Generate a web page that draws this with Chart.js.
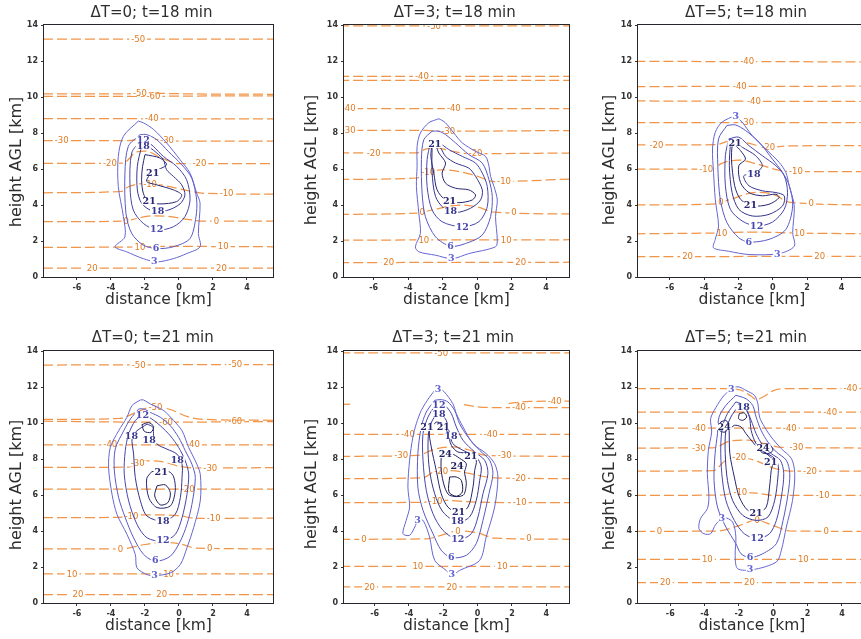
<!DOCTYPE html>
<html>
<head>
<meta charset="utf-8">
<script src="https://cdn.jsdelivr.net/npm/chart.js@4/dist/chart.umd.min.js"></script>
<style>
  html, body { margin: 0; padding: 0; background: #fff; }
  body { width: 861px; height: 639px; overflow: hidden; position: relative; }
  canvas { position: absolute; }
</style>
</head>
<body>
<canvas id="pA" width="283" height="310"></canvas>
<canvas id="pB" width="279" height="310"></canvas>
<canvas id="pC" width="282" height="310"></canvas>
<canvas id="pD" width="283" height="310"></canvas>
<canvas id="pE" width="279" height="310"></canvas>
<canvas id="pF" width="282" height="310"></canvas>
<script>
// ---- axis text and ticks ----
const panelTitles = ['ΔT=0; t=18 min', 'ΔT=3; t=18 min', 'ΔT=5; t=18 min',
                     'ΔT=0; t=21 min', 'ΔT=3; t=21 min', 'ΔT=5; t=21 min'];
const xAxisTitle = 'distance [km]';
const yAxisTitle = 'height AGL [km]';
const xTickValues = [-6, -4, -2, 0, 2, 4];
const yTickValues = [0, 2, 4, 6, 8, 10, 12, 14];

// ---- isotherms: temperature (°C), path [distance km, height km], label positions (km) ----
const isoA = [
  {t: -50, path: [[-8, 13.22], [5.6, 13.22]], at: [-2.4]},
  {t: -50, path: [[-8, 10.17], [-3, 10.18], [-2, 10.24], [-1, 10.2], [5.6, 10.15]], at: [-2.3]},
  {t: -60, path: [[-8, 10.04], [-2, 10.03], [0, 10.05], [5.6, 10.06]], at: [-1.5]},
  {t: -40, path: [[-8, 8.8], [5.6, 8.78]], at: [-1.6]},
  {t: -30, path: [[-8, 7.57], [-3, 7.57], [-2, 7.7], [-1, 7.6], [0, 7.55], [5.6, 7.55]], at: [-6.9, -0.7]},
  {t: -20, path: [[-8, 6.31], [-3.3, 6.32], [-2.5, 6.95], [-2, 7.0], [-1, 6.6], [0, 6.3], [1, 6.3], [5.6, 6.3]], at: [-4.06, 1.2]},
  {t: -10, path: [[-8, 4.68], [-3.4, 4.75], [-3, 5.0], [-2, 5.2], [-1, 5.1], [0.5, 4.8], [1.5, 4.65], [5.6, 4.6]], at: [-1.7, 2.8]},
  {t: 0, path: [[-8, 3.07], [-3.2, 3.1], [-2.5, 3.25], [-1.5, 3.4], [-0.5, 3.35], [0.5, 3.2], [1.5, 3.1], [5.6, 3.1]], at: [-3.1, 2.2]},
  {t: 10, path: [[-8, 1.65], [-3, 1.66], [-1, 1.7], [5.6, 1.68]], at: [-2.3, 2.6]},
  {t: 20, path: [[-8, 0.5], [5.6, 0.5]], at: [-5.1, 2.5]}
];
const isoB = [
  {t: -50, path: [[-8, 13.95], [5.6, 13.95]], at: [-2.5]},
  {t: -40, path: [[-8, 11.14], [5.6, 11.14]], at: [-3.2]},
  {t: -40, path: [[-8, 10.93], [5.6, 10.93]], at: []},
  {t: -40, path: [[-8, 9.35], [5.6, 9.35]], at: [-7.45, -1.35]},
  {t: -30, path: [[-8, 8.14], [-3, 8.14], [-2, 8.1], [5.6, 8.14]], at: [-7.45, -1.68]},
  {t: -20, path: [[-8, 6.89], [-3.5, 6.9], [-3, 7.1], [-2.5, 7.2], [-1.5, 7.0], [-0.5, 6.85], [5.6, 6.89]], at: [-6.0, -0.09]},
  {t: -10, path: [[-8, 5.42], [-3.5, 5.5], [-3, 5.8], [-2, 5.95], [-1, 5.85], [0, 5.6], [1, 5.3], [5.6, 5.45]], at: [-2.84, 1.56]},
  {t: 0, path: [[-8, 3.48], [-3.5, 3.55], [-2.5, 3.75], [-1, 4.0], [0, 3.9], [1, 3.6], [5.6, 3.5]], at: [-3.19, 2.14]},
  {t: 10, path: [[-8, 2.05], [5.6, 2.07]], at: [-3.09, 1.69]},
  {t: 20, path: [[-8, 0.8], [5.6, 0.82]], at: [-5.13, 2.53]}
];
const isoC = [
  {t: -40, path: [[-8, 11.98], [5.6, 11.95]], at: [-1.49]},
  {t: -40, path: [[-8, 10.58], [5.6, 10.6]], at: [-1.92]},
  {t: -40, path: [[-8, 9.78], [5.6, 9.75]], at: [-1.1]},
  {t: -30, path: [[-8, 8.57], [5.6, 8.57]], at: [-1.49]},
  {t: -20, path: [[-8, 7.34], [-3.3, 7.35], [-2.5, 7.55], [-1.5, 7.45], [-0.3, 7.2], [1, 7.28], [5.6, 7.3]], at: [-6.78, -0.27]},
  {t: -10, path: [[-8, 6.0], [-3.5, 6.0], [-3, 6.3], [-2, 6.5], [-1, 6.3], [0.5, 5.9], [1.5, 5.85], [5.6, 5.85]], at: [-3.88, 1.35]},
  {t: 0, path: [[-8, 4.0], [-3.5, 4.05], [-2.5, 4.3], [-1, 4.7], [0, 4.6], [1, 4.15], [5.6, 4.0]], at: [-3.02, 2.24]},
  {t: 10, path: [[-8, 2.4], [-3, 2.45], [-1, 2.5], [1, 2.45], [5.6, 2.4]], at: [-2.96, 1.55]},
  {t: 20, path: [[-8, 1.13], [5.6, 1.15]], at: [-4.96, 2.73]}
];
const isoD = [
  {t: -50, path: [[-8, 13.22], [5.6, 13.25]], at: [-2.37, 3.31]},
  {t: -50, path: [[-8, 10.2], [-3.5, 10.25], [-2.5, 10.6], [-1.5, 10.9], [-0.5, 10.75], [0.5, 10.35], [1.5, 10.2], [5.6, 10.15]], at: [-1.39]},
  {t: -60, path: [[-8, 10.1], [-2, 10.05], [0, 10.05], [5.6, 10.08]], at: [-0.76, 3.31]},
  {t: -40, path: [[-8, 8.79], [5.6, 8.79]], at: [-4.04, 0.82]},
  {t: -30, path: [[-8, 7.53], [-3, 7.55], [-2, 7.9], [-1, 7.85], [0, 7.6], [1, 7.5], [5.6, 7.52]], at: [-2.43, 1.84]},
  {t: -20, path: [[-8, 6.32], [5.6, 6.32]], at: [0.51]},
  {t: -10, path: [[-8, 4.74], [-3.5, 4.76], [-2, 4.9], [0, 4.85], [1, 4.7], [5.6, 4.72]], at: [-2.8, 2.04]},
  {t: 0, path: [[-8, 3.01], [-3.5, 3.0], [-2, 3.25], [-1, 3.35], [0, 3.3], [1, 3.05], [5.6, 3.01]], at: [-3.45, 1.8]},
  {t: 10, path: [[-8, 1.62], [5.6, 1.62]], at: [-6.29, -0.61]},
  {t: 20, path: [[-8, 0.46], [5.6, 0.46]], at: [-5.94, -1.02]}
];
const isoE = [
  {t: -50, path: [[-8, 13.89], [5.6, 13.89]], at: [-2.12]},
  {t: -40, path: [[-8, 11.04], [-7.3, 11.04]], at: []},
  {t: -40, path: [[-0.8, 11.02], [0, 10.9], [1, 10.86], [5.6, 10.86]], at: [2.41]},
  {t: -40, path: [[1.8, 11.08], [3, 11.2], [5.6, 11.22]], at: [4.49]},
  {t: -40, path: [[-8, 9.37], [5.6, 9.37]], at: [-4.06, 0.76]},
  {t: -30, path: [[-8, 8.15], [-3.5, 8.2], [-2.5, 8.55], [-1.5, 8.67], [-0.5, 8.5], [0.5, 8.2], [5.6, 8.15]], at: [-4.45, 1.57]},
  {t: -20, path: [[-8, 6.91], [-3.2, 6.95], [-2.5, 7.3], [-1.5, 7.35], [-0.5, 7.2], [1, 6.95], [5.6, 6.91]], at: [-2.12, 2.41]},
  {t: -10, path: [[-8, 5.57], [-3, 5.6], [-2, 5.7], [0, 5.6], [5.6, 5.57]], at: [-2.45, 2.45]},
  {t: 0, path: [[-8, 3.54], [-3, 3.56], [-2, 3.8], [-1.2, 4.0], [0, 3.9], [1, 3.6], [5.6, 3.54]], at: [-6.62, -1.15, 2.99]},
  {t: 10, path: [[-8, 2.04], [5.6, 2.04]], at: [-3.48, 1.44]},
  {t: 20, path: [[-8, 0.89], [5.6, 0.89]], at: [-6.29, -1.5]}
];
const isoF = [
  {t: -40, path: [[-8, 11.91], [-3, 11.91], [-2, 11.85], [-1.3, 11.5], [-1.0, 11.3], [-0.5, 11.5], [0, 11.8], [1, 11.91], [5.6, 11.91]], at: [4.49]},
  {t: -40, path: [[-8, 10.61], [5.6, 10.61]], at: [3.31]},
  {t: -40, path: [[-8, 9.72], [5.6, 9.72]], at: [-4.33, 0.96]},
  {t: -30, path: [[-8, 8.61], [-3.5, 8.62], [-2.5, 9.0], [-1.5, 9.05], [-0.5, 8.85], [0.5, 8.65], [5.6, 8.61]], at: [-4.33, 1.35]},
  {t: -20, path: [[-8, 7.33], [-3.5, 7.35], [-2.8, 7.9], [-2, 8.1], [-1, 7.9], [0, 7.5], [1, 7.33], [5.6, 7.33]], at: [-1.98, 2.14]},
  {t: -10, path: [[-8, 5.98], [-3, 6.0], [-2, 6.15], [-1, 6.1], [0, 5.98], [5.6, 5.98]], at: [-1.92, 2.88]},
  {t: 0, path: [[-8, 3.98], [-3.2, 4.0], [-2, 4.3], [-1, 4.6], [0, 4.3], [1, 4.0], [5.6, 3.98]], at: [-6.63, -0.94, 3.08]},
  {t: 10, path: [[-8, 2.43], [5.6, 2.43]], at: [-3.84, 1.75]},
  {t: 20, path: [[-8, 1.13], [5.6, 1.13]], at: [-6.29, -1.39]}
];

// ---- reflectivity contours: level (dBZ), closed outline [distance km, height km], label positions ----
const cellA = [
  {z: 3, path: [[-2.39, 8.66], [-3.27, 7.82], [-3.57, 6.7], [-3.57, 5.03], [-3.27, 3.35], [-3.18, 2.23], [-3.76, 1.68], [-3.08, 1.4], [-2.1, 1.02], [-1.3, 0.84], [-0.33, 1.02], [0.45, 1.3], [1.24, 1.68], [1.14, 2.42], [1.24, 4.1], [1.04, 4.66], [0.65, 5.77], [0.06, 6.52], [-0.73, 7.45], [-1.5, 8.2], [-2.1, 8.57]], at: [[-1.45, 0.88]]},
  {z: 6, path: [[-2.29, 7.91], [-2.98, 7.26], [-3.18, 5.77], [-3.12, 3.54], [-2.78, 2.42], [-2.1, 1.77], [-1.31, 1.58], [-0.33, 1.68], [0.65, 2.14], [1.0, 3.35], [1.04, 4.28], [0.75, 5.49], [0.16, 6.24], [-0.63, 6.98], [-1.31, 7.63], [-1.9, 7.91]], at: [[-1.35, 1.62]]},
  {z: 12, path: [[-2.2, 7.63], [-2.78, 6.89], [-2.88, 5.03], [-2.69, 3.72], [-2.1, 2.98], [-1.31, 2.61], [-0.33, 2.79], [0.35, 3.35], [0.65, 4.28], [0.45, 5.4], [-0.14, 6.15], [-0.92, 6.7], [-1.51, 7.26], [-1.9, 7.54]], at: [[-1.31, 2.65], [-2.1, 7.62]]},
  {z: 18, path: [[-2.2, 7.26], [-2.45, 6.15], [-2.45, 4.84], [-2.2, 4.1], [-1.61, 3.69], [-0.73, 3.69], [0.06, 4.06], [0.35, 4.56], [0.16, 5.12], [-0.33, 5.59], [-0.73, 5.96], [-0.92, 6.52], [-1.31, 6.89], [-1.71, 7.17]], at: [[-2.1, 7.28], [-1.25, 3.69]]},
  {z: 21, path: [[-2.0, 6.8], [-1.12, 6.61], [-0.73, 6.24], [-1.22, 5.96], [-1.71, 5.68], [-1.9, 5.31], [-1.31, 5.12], [-0.33, 4.84], [0.16, 4.56], [-0.14, 4.19], [-1.12, 4.06], [-1.8, 4.19], [-2.1, 4.66], [-2.2, 5.4], [-2.14, 6.15]], at: [[-1.55, 5.8], [-1.75, 4.2]]}
];
const cellB = [
  {z: 3, path: [[-2.22, 8.79], [-2.8, 8.57], [-3.29, 8.0], [-3.48, 7.26], [-3.48, 6.15], [-3.52, 5.03], [-3.38, 3.54], [-3.29, 2.42], [-3.58, 1.68], [-3.38, 1.4], [-2.41, 1.21], [-1.45, 1.02], [-0.48, 1.3], [1.07, 1.68], [1.17, 2.05], [1.07, 3.35], [1.17, 4.28], [0.98, 5.03], [0.78, 5.59], [0.69, 6.15], [0.49, 6.7], [-0.09, 6.98], [-0.86, 7.45], [-1.35, 8.0], [-1.84, 8.57], [-2.12, 8.75]], at: [[-1.5, 1.04]]},
  {z: 6, path: [[-2.61, 8.1], [-3.09, 7.63], [-3.23, 6.52], [-3.19, 4.66], [-3.0, 3.35], [-2.41, 2.23], [-1.54, 1.71], [-0.67, 1.86], [0.3, 2.33], [0.78, 3.35], [0.88, 4.47], [0.69, 5.4], [0.3, 6.33], [-0.48, 6.8], [-1.25, 7.45], [-1.83, 7.91], [-2.22, 8.1]], at: [[-1.54, 1.74]]},
  {z: 12, path: [[-2.71, 7.45], [-2.9, 6.52], [-2.9, 5.03], [-2.61, 3.72], [-2.03, 3.07], [-0.86, 2.79], [0.1, 3.07], [0.59, 3.91], [0.59, 5.03], [0.3, 5.77], [-0.09, 6.33], [-0.86, 6.7], [-1.64, 7.08], [-2.22, 7.45]], at: [[-0.86, 2.8]]},
  {z: 18, path: [[-2.61, 7.26], [-2.61, 5.77], [-2.41, 4.47], [-1.93, 3.82], [-1.25, 3.58], [-0.38, 3.82], [0.2, 4.28], [0.3, 4.84], [-0.09, 5.59], [-0.48, 6.05], [-1.25, 6.33], [-1.83, 6.7], [-2.12, 7.17], [-2.41, 7.36]], at: [[-1.54, 3.64]]},
  {z: 21, path: [[-2.62, 7.35], [-2.68, 6.7], [-2.51, 5.77], [-2.32, 4.84], [-1.83, 4.28], [-1.06, 4.13], [-0.28, 4.28], [-0.09, 4.56], [-0.48, 4.84], [-1.25, 4.93], [-1.83, 5.21], [-2.03, 5.77], [-1.83, 6.33], [-2.22, 6.89], [-2.41, 7.3]], at: [[-2.45, 7.36], [-1.6, 4.2]]}
];
const cellC = [
  {z: 3, path: [[-2.18, 8.98], [-2.96, 8.6], [-3.35, 8.04], [-3.51, 7.11], [-3.45, 5.81], [-3.35, 4.32], [-3.16, 2.83], [-3.35, 2.09], [-3.45, 1.62], [-2.57, 1.43], [-1.39, 1.25], [0.37, 1.3], [1.25, 1.71], [1.16, 2.46], [1.25, 3.95], [0.96, 5.07], [0.76, 5.81], [0.37, 6.37], [-0.41, 7.11], [-1.2, 7.86], [-1.78, 8.6], [-2.08, 8.88]], at: [[0.27, 1.3], [-2.15, 8.94]]},
  {z: 6, path: [[-2.67, 8.42], [-3.16, 7.67], [-3.2, 6.18], [-3.06, 4.32], [-2.67, 3.02], [-1.98, 2.18], [-1.39, 1.94], [-0.22, 2.09], [0.76, 2.64], [1.16, 3.95], [0.96, 5.07], [0.57, 5.81], [-0.02, 6.55], [-0.8, 7.49], [-1.59, 8.14], [-2.18, 8.45]], at: [[-1.39, 1.96]]},
  {z: 12, path: [[-2.57, 7.67], [-2.76, 6.74], [-2.76, 5.07], [-2.47, 3.76], [-1.78, 3.11], [-0.94, 2.83], [-0.02, 3.05], [0.67, 3.76], [0.86, 4.69], [0.67, 5.62], [0.18, 6.18], [-0.61, 6.74], [-1.39, 7.3], [-1.98, 7.77]], at: [[-0.94, 2.85]]},
  {z: 18, path: [[-2.47, 7.39], [-2.53, 6.18], [-2.37, 4.69], [-1.98, 3.76], [-1.2, 3.39], [-0.22, 3.48], [0.57, 3.95], [0.67, 4.51], [0.18, 4.69], [-0.61, 4.79], [-1.39, 5.07], [-1.69, 5.62], [-1.05, 5.75], [-0.61, 6.18], [-1.0, 6.74], [-1.78, 7.21], [-2.18, 7.49]], at: [[-1.1, 5.72]]},
  {z: 21, path: [[-2.37, 7.3], [-2.41, 6.55], [-2.22, 5.07], [-1.88, 4.32], [-1.2, 3.95], [-0.22, 4.04], [0.37, 4.41], [0.18, 4.6], [-0.61, 4.51], [-1.39, 4.69], [-1.88, 5.25], [-1.98, 6.18], [-1.59, 6.55], [-1.88, 7.02], [-2.18, 7.3]], at: [[-2.2, 7.45], [-1.3, 3.98]]}
];
const cellD = [
  {z: 3, path: [[-2.27, 11.28], [-2.76, 10.97], [-3.06, 10.32], [-3.55, 9.57], [-4.04, 8.64], [-4.14, 7.53], [-3.94, 6.04], [-3.65, 4.93], [-3.06, 3.81], [-2.57, 2.7], [-2.47, 1.95], [-1.88, 1.58], [-1.43, 1.52], [-0.51, 1.67], [0.08, 2.14], [0.47, 3.07], [0.86, 4.18], [1.25, 5.67], [1.25, 7.16], [0.96, 7.9], [0.57, 8.64], [0.18, 9.57], [-0.31, 10.13], [-0.9, 10.69], [-1.69, 11.06], [-2.08, 11.28]], at: [[-1.43, 1.54]]},
  {z: 6, path: [[-2.37, 10.78], [-2.86, 10.22], [-3.25, 9.57], [-3.75, 8.55], [-3.8, 7.34], [-3.55, 5.86], [-3.16, 4.74], [-2.67, 3.62], [-2.08, 2.7], [-1.39, 2.32], [-0.51, 2.6], [0.08, 3.44], [0.47, 4.37], [0.76, 5.48], [0.96, 6.97], [0.76, 7.71], [0.37, 8.46], [-0.02, 9.2], [-0.51, 9.85], [-1.1, 10.32], [-1.69, 10.59], [-2.08, 10.78]], at: [[-1.39, 2.36]]},
  {z: 12, path: [[-2.08, 10.5], [-2.57, 10.13], [-2.96, 9.39], [-3.16, 8.46], [-3.22, 7.16], [-2.96, 5.67], [-2.47, 4.37], [-1.88, 3.62], [-0.94, 3.44], [-0.22, 3.81], [0.18, 4.74], [0.47, 6.04], [0.57, 7.16], [0.37, 7.9], [-0.02, 8.64], [-0.51, 9.29], [-1.1, 9.85], [-1.59, 10.22]], at: [[-2.15, 10.47], [-0.94, 3.48]]},
  {z: 18, path: [[-1.88, 9.94], [-2.47, 9.57], [-2.76, 9.2], [-2.67, 8.27], [-2.57, 6.97], [-2.27, 5.67], [-1.88, 4.83], [-0.94, 4.55], [-0.22, 4.93], [0.08, 5.86], [0.18, 6.97], [0.18, 7.71], [-0.12, 8.27], [-0.71, 8.55], [-1.29, 8.83], [-1.49, 9.29], [-1.53, 9.76]], at: [[-2.8, 9.3], [-1.75, 9.05], [-0.1, 7.95], [-0.94, 4.57]]},
  {z: 21, path: [[-1.6, 7.3], [-1.9, 6.9], [-1.78, 5.86], [-1.29, 5.3], [-0.51, 5.39], [-0.22, 6.23], [-0.31, 7.0], [-0.6, 7.3]], at: [[-1.05, 7.3]]},
  {z: 24, path: [[-1.29, 6.51], [-1.43, 5.95], [-1.1, 5.45], [-0.65, 5.58], [-0.51, 6.13], [-0.8, 6.56]], at: []},
  {z: 24, path: [[-2.18, 9.91], [-2.04, 9.54], [-1.65, 9.48], [-1.49, 9.8], [-1.78, 10.02]], at: []}
];
const cellE = [
  {z: 3, path: [[-2.41, 11.91], [-2.8, 11.44], [-3.28, 10.7], [-3.57, 9.96], [-3.77, 9.22], [-3.96, 7.93], [-4.06, 6.44], [-3.96, 5.33], [-4.16, 4.59], [-4.35, 3.85], [-3.96, 3.76], [-3.62, 4.3], [-3.45, 4.7], [-3.15, 4.55], [-2.8, 3.67], [-2.5, 2.37], [-1.83, 1.81], [-1.5, 1.54], [-1.05, 1.81], [0.12, 2.37], [0.5, 3.67], [0.99, 5.33], [1.18, 7.0], [0.99, 7.74], [0.5, 8.3], [-0.27, 8.85], [-0.85, 9.78], [-1.24, 10.52], [-1.44, 11.07], [-1.93, 11.72], [-2.21, 11.91]], at: [[-2.3, 11.86], [-3.5, 4.6], [-1.5, 1.6]]},
  {z: 6, path: [[-2.5, 11.26], [-2.99, 10.61], [-3.28, 9.78], [-3.48, 8.3], [-3.48, 6.44], [-3.18, 5.15], [-2.6, 3.85], [-2.12, 2.93], [-1.53, 2.52], [-0.66, 2.65], [-0.08, 3.3], [0.31, 4.59], [0.66, 6.07], [0.89, 7.19], [0.7, 7.93], [0.12, 8.48], [-0.56, 9.22], [-1.05, 9.96], [-1.34, 10.7], [-1.73, 11.17], [-2.12, 11.3]], at: [[-1.53, 2.54]]},
  {z: 12, path: [[-2.41, 11.07], [-2.89, 10.33], [-3.18, 9.41], [-3.18, 7.93], [-2.99, 6.26], [-2.6, 4.96], [-2.02, 4.04], [-1.15, 3.52], [-0.37, 3.85], [0.02, 4.78], [0.31, 6.07], [0.6, 7.19], [0.41, 7.93], [-0.17, 8.39], [-0.85, 9.04], [-1.24, 9.78], [-1.53, 10.52], [-1.92, 10.98]], at: [[-2.25, 10.98], [-1.15, 3.55]]},
  {z: 18, path: [[-2.41, 10.52], [-2.8, 9.78], [-2.89, 8.67], [-2.8, 7.37], [-2.5, 6.07], [-2.02, 5.06], [-1.18, 4.5], [-0.47, 4.78], [-0.08, 5.7], [0.12, 6.81], [0.21, 7.56], [-0.08, 8.11], [-0.85, 8.48], [-1.44, 8.85], [-1.63, 9.41], [-1.83, 10.15], [-2.12, 10.48]], at: [[-2.25, 10.5], [-1.55, 9.3], [-1.18, 4.55]]},
  {z: 21, path: [[-2.41, 10.06], [-2.8, 9.59], [-2.7, 8.67], [-2.41, 7.37], [-2.12, 6.07], [-1.73, 5.33], [-1.11, 5.0], [-0.56, 5.33], [-0.27, 6.44], [-0.17, 7.37], [-0.08, 7.93], [-0.47, 8.3], [-1.15, 8.39], [-1.53, 8.76], [-1.73, 9.41], [-2.02, 9.96]], at: [[-2.95, 9.75], [-2.0, 9.8], [-0.4, 8.15], [-1.11, 5.05]]},
  {z: 24, path: [[-2.12, 8.3], [-2.12, 7.37], [-1.92, 6.44], [-1.63, 5.98], [-0.85, 5.98], [-0.66, 6.63], [-0.76, 7.28], [-0.66, 7.74], [-1.05, 8.04], [-1.53, 8.3]], at: [[-1.88, 8.25], [-1.2, 7.6]]},
  {z: 27, path: [[-1.63, 7.0], [-1.67, 6.17], [-1.24, 5.93], [-0.89, 6.17], [-0.95, 6.81], [-1.24, 7.0]], at: []}
];
const cellF = [
  {z: 3, path: [[-2.27, 12.0], [-2.86, 11.54], [-3.35, 10.85], [-3.65, 10.24], [-3.59, 9.5], [-3.78, 8.48], [-3.84, 7.19], [-3.75, 5.89], [-3.84, 5.24], [-4.24, 4.69], [-4.33, 4.13], [-4.04, 3.85], [-3.65, 3.85], [-3.35, 4.37], [-2.86, 4.74], [-2.37, 4.5], [-2.18, 3.67], [-2.22, 2.65], [-2.08, 1.91], [-1.2, 1.85], [0.18, 2.28], [0.47, 2.93], [0.76, 4.22], [1.12, 5.7], [1.25, 7.19], [1.06, 8.02], [0.47, 8.57], [-0.12, 9.22], [-0.51, 9.78], [-0.8, 10.33], [-0.9, 11.07], [-1.1, 11.54], [-1.59, 11.81], [-1.98, 12.0]], at: [[-2.45, 11.88], [-3.0, 4.72], [-1.35, 1.86]]},
  {z: 6, path: [[-2.18, 11.54], [-2.76, 10.98], [-3.16, 10.33], [-3.25, 9.41], [-3.39, 8.3], [-3.45, 6.81], [-3.25, 5.33], [-2.76, 4.22], [-2.18, 3.3], [-1.88, 2.74], [-1.35, 2.52], [-0.61, 2.74], [0.18, 3.3], [0.57, 4.59], [0.86, 6.07], [0.96, 7.19], [0.76, 7.93], [0.18, 8.39], [-0.31, 8.94], [-0.71, 9.59], [-1.0, 10.33], [-1.2, 10.98], [-1.59, 11.35]], at: [[-1.35, 2.54]]},
  {z: 12, path: [[-2.18, 11.17], [-2.67, 10.52], [-2.96, 9.78], [-3.06, 8.67], [-3.0, 7.19], [-2.76, 5.7], [-2.27, 4.59], [-1.69, 3.85], [-0.94, 3.57], [-0.22, 3.85], [0.18, 4.59], [0.47, 5.89], [0.61, 7.19], [0.41, 7.93], [-0.12, 8.3], [-0.61, 8.76], [-1.0, 9.41], [-1.29, 10.15], [-1.59, 10.8], [-1.88, 11.07]], at: [[-0.94, 3.6]]},
  {z: 18, path: [[-2.08, 10.89], [-2.47, 10.33], [-2.76, 9.59], [-2.8, 8.3], [-2.67, 6.81], [-2.37, 5.7], [-1.78, 4.87], [-1.0, 4.59], [-0.31, 4.78], [0.08, 5.7], [0.27, 7.0], [0.27, 7.74], [-0.02, 8.11], [-0.51, 8.39], [-1.0, 8.85], [-1.29, 9.59], [-1.39, 10.33], [-1.69, 10.85]], at: [[-1.75, 10.9]]},
  {z: 21, path: [[-2.57, 9.59], [-2.53, 8.3], [-2.27, 7.0], [-1.98, 5.89], [-1.49, 5.15], [-0.9, 5.0], [-0.41, 5.33], [-0.22, 6.44], [-0.12, 7.37], [-0.02, 7.93], [-0.41, 8.3], [-0.84, 8.57], [-1.2, 8.94], [-1.59, 9.41], [-1.88, 9.78], [-2.27, 9.87]], at: [[-1.0, 5.02], [-0.15, 7.85]]},
  {z: 24, path: [[-3.06, 10.06], [-3.12, 9.59], [-2.8, 9.5], [-2.61, 9.87], [-2.76, 10.15]], at: [[-2.86, 9.8]]},
  {z: 24, path: [[-0.71, 8.81], [-0.71, 8.39], [-0.31, 8.3], [-0.02, 8.48], [-0.22, 8.81]], at: [[-0.6, 8.63]]},
  {z: 27, path: [[-1.98, 10.52], [-2.02, 10.24], [-1.78, 10.15], [-1.55, 10.33], [-1.69, 10.56]], at: []}
];

// ---- styling ----
const ISO_LINE = '#f29548';
const ISO_TEXT = '#e27b22';
const LEVEL_COLORS = {3: '#6565d4', 6: '#5858c6', 12: '#4646ad', 18: '#35358f', 21: '#262672', 24: '#1e1e5c', 27: '#17174a'};
const FONT = "'DejaVu Sans', sans-serif";
const INK = '#2e2e2e';

// canvas placement, axis extents and text offsets for each panel
const panelLayout = [
  {id: 'pA', iso: isoA, cell: cellA, left: 0,   top: 0,   xmin: -7.94, xmax: 5.53, yOff: 27,   yShift: 11, tDx: -7,   tDy: 11.5},
  {id: 'pB', iso: isoB, cell: cellB, left: 300, top: 0,   xmin: -7.72, xmax: 5.33, yOff: 32,   yShift: 9,  tDx: -1.7, tDy: 11.5},
  {id: 'pC', iso: isoC, cell: cellC, left: 594, top: 0,   xmin: -7.85, xmax: 5.43, yOff: 28.5, yShift: 9,  tDx: -6,   tDy: 11.5},
  {id: 'pD', iso: isoD, cell: cellD, left: 0,   top: 326, xmin: -7.94, xmax: 5.53, yOff: 27,   yShift: 8,  tDx: -5.7, tDy: 12.5},
  {id: 'pE', iso: isoE, cell: cellE, left: 300, top: 326, xmin: -7.78, xmax: 5.32, yOff: 32,   yShift: 7,  tDx: -3.4, tDy: 12.5},
  {id: 'pF', iso: isoF, cell: cellF, left: 594, top: 326, xmin: -7.88, xmax: 5.4,  yOff: 28.5, yShift: 8,  tDx: -6,   tDy: 12.5}
];

// height of an isotherm path at a given distance (for placing its inline label)
function heightOnPath(path, x) {
  for (let i = 1; i < path.length; i++) {
    const [x0, y0] = path[i - 1], [x1, y1] = path[i];
    if (x >= x0 && x <= x1) return y0 + (y1 - y0) * (x - x0) / (x1 - x0 || 1);
  }
  return path[x < path[0][0] ? 0 : path.length - 1][1];
}

const panelDecor = {
  id: 'panelDecor',
  // inline isotherm labels, drawn right after each dashed line
  afterDatasetDraw(chart, args) {
    const ds = chart.data.datasets[args.index];
    if (ds.kind !== 'iso' || !ds.labelAt.length) return;
    const {ctx, chartArea: a, scales: {x, y}} = chart;
    ctx.save();
    ctx.beginPath(); ctx.rect(a.left, a.top, a.width, a.height); ctx.clip();
    ctx.font = '8.5px ' + FONT;
    ctx.textAlign = 'center'; ctx.textBaseline = 'middle';
    const txt = String(ds.temp);
    const w = ctx.measureText(txt).width + 4;
    for (const lx of ds.labelAt) {
      const px = x.getPixelForValue(lx);
      const py = y.getPixelForValue(heightOnPath(ds.path, lx));
      ctx.fillStyle = '#fff'; ctx.fillRect(px - w / 2, py - 3, w, 6);
      ctx.fillStyle = ISO_TEXT; ctx.fillText(txt, px, py + 0.5);
    }
    ctx.restore();
  },
  // reflectivity contour labels on top of everything
  afterDatasetsDraw(chart) {
    const {ctx, chartArea: a, scales: {x, y}} = chart;
    ctx.save();
    ctx.beginPath(); ctx.rect(a.left, a.top, a.width, a.height); ctx.clip();
    ctx.font = "bold 9.5px 'DejaVu Serif', serif";
    ctx.textAlign = 'center'; ctx.textBaseline = 'middle';
    for (const ds of chart.data.datasets) {
      if (ds.kind !== 'cell') continue;
      const txt = String(ds.level);
      const w = ctx.measureText(txt).width + 2;
      for (const [lx, ly] of ds.labelAt) {
        const px = x.getPixelForValue(lx), py = y.getPixelForValue(ly);
        ctx.fillStyle = '#fff'; ctx.fillRect(px - w / 2, py - 3.5, w, 7);
        ctx.fillStyle = LEVEL_COLORS[ds.level]; ctx.fillText(txt, px, py + 0.5);
      }
    }
    ctx.restore();
  },
  // frame around the plot, panel title and vertical axis title
  afterDraw(chart, args, opts) {
    const {ctx, chartArea: a} = chart;
    ctx.save();
    ctx.strokeStyle = '#26262e'; ctx.lineWidth = 1;
    ctx.strokeRect(a.left - 0.5, a.top - 0.5, a.width + 1, a.height + 1);
    ctx.fillStyle = INK; ctx.textAlign = 'center'; ctx.textBaseline = 'middle';
    ctx.font = '15px ' + FONT;
    ctx.fillText(opts.title, (a.left + a.right) / 2 + opts.titleDx, a.top - opts.titleDy);
    ctx.translate(a.left - opts.offset, (a.top + a.bottom) / 2 + opts.shift);
    ctx.rotate(-Math.PI / 2);
    ctx.font = '16px ' + FONT;
    ctx.fillText(yAxisTitle, 0, 0);
    ctx.restore();
  }
};

function buildDatasets(iso, cells) {
  const out = [];
  for (const c of cells) {
    out.push({
      kind: 'cell', level: c.z, labelAt: c.at,
      data: [...c.path, c.path[0]].map(([x, y]) => ({x, y})),
      showLine: true, fill: false, pointRadius: 0, tension: 0.3,
      borderColor: LEVEL_COLORS[c.z], borderWidth: 1, order: 1
    });
  }
  for (const s of iso) {
    out.push({
      kind: 'iso', temp: s.t, path: s.path, labelAt: s.at,
      data: s.path.map(([x, y]) => ({x, y})),
      showLine: true, fill: false, pointRadius: 0, cubicInterpolationMode: 'monotone',
      borderColor: ISO_LINE, borderWidth: 1.25, borderDash: [10, 4], order: 2
    });
  }
  return out;
}

const tickFont = {family: FONT, size: 8, weight: 'bold'};
const tickGrid = {display: true, drawOnChartArea: false, drawTicks: true, tickLength: 3, color: '#333', lineWidth: 1};

panelLayout.forEach((p, i) => {
  const cv = document.getElementById(p.id);
  cv.style.left = p.left + 'px';
  cv.style.top = p.top + 'px';
  new Chart(cv, {
    type: 'scatter',
    data: {datasets: buildDatasets(p.iso, p.cell)},
    options: {
      responsive: false, animation: false, events: [],
      layout: {padding: {left: 0, right: 10, top: 25, bottom: 0}},
      plugins: {
        legend: {display: false},
        tooltip: {enabled: false},
        title: {display: false},
        panelDecor: {title: panelTitles[i], titleDx: p.tDx, titleDy: p.tDy, offset: p.yOff, shift: p.yShift}
      },
      scales: {
        x: {
          type: 'linear', min: p.xmin, max: p.xmax,
          afterFit: s => { s.height = 33; },
          afterBuildTicks: s => { s.ticks = xTickValues.map(v => ({value: v})); },
          grid: tickGrid, border: {display: false},
          ticks: {color: '#333', font: tickFont, padding: 3, maxRotation: 0, autoSkip: false, callback: v => String(v)},
          title: {display: true, text: xAxisTitle, color: INK, font: {family: FONT, size: 15.5}, padding: {top: 0, bottom: 0.7}}
        },
        y: {
          type: 'linear', min: 0, max: 14,
          afterFit: s => { s.width = 44; },
          afterBuildTicks: s => { s.ticks = yTickValues.map(v => ({value: v})); },
          grid: tickGrid, border: {display: false},
          ticks: {color: '#333', font: tickFont, padding: 3, autoSkip: false, callback: v => String(v)}
        }
      }
    },
    plugins: [panelDecor]
  });
});
</script>
</body>
</html>
